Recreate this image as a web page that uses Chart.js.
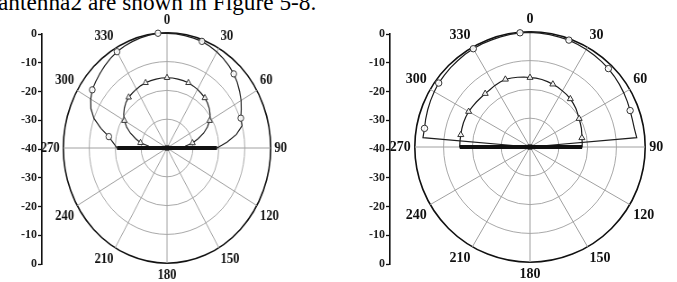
<!DOCTYPE html>
<html><head><meta charset="utf-8">
<script src="https://cdn.jsdelivr.net/npm/chart.js@4.4.0/dist/chart.umd.min.js"></script>
<style>
html,body{margin:0;padding:0;background:#fff;width:677px;height:282px;overflow:hidden;position:relative}
.box{position:absolute}
#caption{position:absolute;left:-2px;top:-9px;font-family:"Liberation Serif",serif;font-size:23.3px;line-height:23px;white-space:nowrap;color:#000}
</style></head><body>
<div id="caption">antenna2 are shown in Figure 5-8.</div>
<div class="box" style="left:0px;top:24px;width:60px;height:250px"><canvas id="axL"></canvas></div>
<div class="box" style="left:348px;top:24px;width:60px;height:250px"><canvas id="axR"></canvas></div>
<div class="box" style="left:-3px;top:13px;width:340px;height:272px;transform:scaleX(0.9);transform-origin:170px 50%"><canvas id="polL"></canvas></div>
<div class="box" style="left:360px;top:12px;width:340px;height:272px"><canvas id="polR"></canvas></div>
<script>
// angle categories (degrees, clockwise from top)
const angles = [0,5,10,15,20,25,30,35,40,45,50,55,60,65,70,75,80,85,90,95,100,105,110,115,120,125,130,135,140,145,150,155,160,165,170,175,180,185,190,195,200,205,210,215,220,225,230,235,240,245,250,255,260,265,270,275,280,285,290,295,300,305,310,315,320,325,330,335,340,345,350,355];
// angle tick labels shown around the plots
const angleTicks = [0,30,60,90,120,150,180,210,240,270,300,330];
// radial axis (dB) range and label values
const dbTicks = [0,-10,-20,-30,-40];
// marker positions (degrees)
const circleMarks = [355,20,45,70,330,305,280];
const triMarks = [0,20,40,60,80,340,320,300,280];
// angles whose connecting segments lie on the heavy 90/270 baseline
const baselineAngles = [90,95,265,270];

// left plot, circle series (dB)
const leftCircle = [-0.2,-0.2,-0.4,-0.5,-0.6,-1.0,-1.5,-2.1,-2.8,-3.6,-4.6,-5.8,-7.0,-8.4,-9.7,-10.0,-12.8,-16.8,-20.7,
 -40,-40,-40,-40,-40,-40,-40,-40,-40,-40,-40,-40,-40,-40,-40,-40,-40,-40,-40,-40,-40,-40,-40,-40,-40,-40,-40,-40,-40,-40,-40,-40,-40,-40,-40,
 -20.7,-19.2,-17.2,-13.6,-10.0,-7.6,-6.0,-4.8,-4.1,-3.4,-2.7,-2.0,-1.4,-1.0,-0.7,-0.4,-0.2,0];
// left plot, triangle series (dB)
const leftTriangle = [-15.6,-15.6,-15.7,-15.8,-15.9,-16.2,-16.5,-16.9,-17.3,-17.9,-18.7,-19.7,-21.0,-22.8,-25.0,-27.6,-30.0,-33.0,-40,
 -40,-40,-40,-40,-40,-40,-40,-40,-40,-40,-40,-40,-40,-40,-40,-40,-40,-40,-40,-40,-40,-40,-40,-40,-40,-40,-40,-40,-40,-40,-40,-40,-40,-40,-40,
 -40,-33.0,-29.6,-27.5,-25.0,-22.8,-21.0,-19.6,-18.5,-17.6,-17.0,-16.7,-16.4,-16.1,-15.9,-15.8,-15.7,-15.6];
// right plot, circle series (dB)
const rightCircle = [-0.2,-0.3,-0.4,-0.5,-0.5,-0.7,-0.9,-1.1,-1.3,-1.5,-1.8,-2.1,-2.4,-2.7,-3.0,-3.2,-3.2,-2.8,-40,
 -40,-40,-40,-40,-40,-40,-40,-40,-40,-40,-40,-40,-40,-40,-40,-40,-40,-40,-40,-40,-40,-40,-40,-40,-40,-40,-40,-40,-40,-40,-40,-40,-40,-40,-40,
 -40,-2.7,-2.8,-2.5,-2.2,-1.9,-1.6,-1.3,-1.2,-1.0,-0.9,-0.7,-0.6,-0.5,-0.5,-0.4,-0.3,-0.2];
// right plot, triangle series (dB)
const rightTriangle = [-15.9,-16.0,-16.2,-16.5,-16.8,-17.1,-17.5,-17.8,-18.2,-18.7,-19.2,-19.8,-20.3,-20.7,-21.0,-21.4,-21.7,-21.8,-21.9,
 -40,-40,-40,-40,-40,-40,-40,-40,-40,-40,-40,-40,-40,-40,-40,-40,-40,-40,-40,-40,-40,-40,-40,-40,-40,-40,-40,-40,-40,-40,-40,-40,-40,-40,-40,
 -15.6,-15.6,-15.6,-15.5,-15.4,-15.4,-15.4,-15.6,-15.7,-15.8,-15.8,-15.7,-15.4,-15.2,-15.0,-15.2,-15.4,-15.6];

const SERIF = '"Liberation Serif","Times New Roman",serif';
const LINE = '#1e1e1e';

function polar(id, circ, tri, heavySeries){
  const base = angles.map((a, i) => baselineAngles.includes(a) ? heavySeries[i] : null);
  return new Chart(document.getElementById(id), {
    type: 'radar',
    data: {
      labels: angles.map(String),
      datasets: [
        {data: base, borderColor: '#111', borderWidth: 4, fill: false, pointRadius: 0, spanGaps: false, borderCapStyle: 'butt'},
        {data: circ, borderColor: LINE, borderWidth: 1.2, fill: false,
         pointStyle: c => c.dataIndex === 36 ? 'rect' : 'circle',
         pointRadius: c => (c.dataIndex === 36 || circleMarks.includes(angles[c.dataIndex])) ? 3.2 : 0,
         pointBorderColor: '#333', pointBackgroundColor: 'rgba(255,255,255,0.9)', pointBorderWidth: 1},
        {data: tri, borderColor: LINE, borderWidth: 1.2, fill: false,
         pointStyle: 'triangle',
         pointRadius: c => triMarks.includes(angles[c.dataIndex]) ? 3.5 : 0,
         pointBorderColor: '#333', pointBackgroundColor: 'rgba(255,255,255,0.9)', pointBorderWidth: 1}
      ]
    },
    options: {
      responsive: true, maintainAspectRatio: false, animation: false,
      layout: {padding: 0},
      elements: {line: {tension: 0}},
      plugins: {legend: {display: false}, tooltip: {enabled: false}},
      scales: {
        r: {
          min: dbTicks[dbTicks.length-1], max: dbTicks[0],
          ticks: {display: false, stepSize: 10},
          grid: {circular: true,
                 color: c => c.tick && c.tick.value === dbTicks[0] ? '#111' : '#a8a8a8',
                 lineWidth: c => c.tick && c.tick.value === dbTicks[0] ? 1.6 : 1},
          angleLines: {display: true,
                 color: c => angleTicks.includes(angles[c.index]) ? '#a0a0a0' : 'rgba(0,0,0,0)',
                 lineWidth: 1},
          pointLabels: {display: true, padding: 4, color: '#111',
                 font: {family: SERIF, size: 14, weight: 'bold'},
                 callback: (lab, i) => angleTicks.includes(angles[i]) ? lab : ''}
        }
      }
    }
  });
}

function axis(id){
  return new Chart(document.getElementById(id), {
    type: 'scatter',
    data: {datasets: [{data: []}]},
    options: {
      responsive: true, maintainAspectRatio: false, animation: false,
      layout: {padding: {top: 10, bottom: 10, left: 0, right: 0}},
      plugins: {legend: {display: false}, tooltip: {enabled: false}},
      scales: {
        x: {display: false, min: 0, max: 1},
        y: {position: 'left', min: -40, max: 40,
            afterFit: s => { s.width = 42; },
            ticks: {stepSize: 5, padding: 1, color: '#222',
                    font: {family: SERIF, size: 12, weight: 'bold'},
                    callback: v => (v % 10 === 0) ? String(Math.abs(v) + dbTicks[dbTicks.length-1]) : ''},
            grid: {display: true, drawOnChartArea: false, drawTicks: true, tickLength: 4, tickColor: '#111', tickWidth: 1.3},
            border: {display: true, color: '#111', width: 1.6}}
      }
    }
  });
}

axis('axL'); axis('axR');
polar('polL', leftCircle, leftTriangle, leftCircle);
polar('polR', rightCircle, rightTriangle, rightTriangle);
</script>
</body></html>
